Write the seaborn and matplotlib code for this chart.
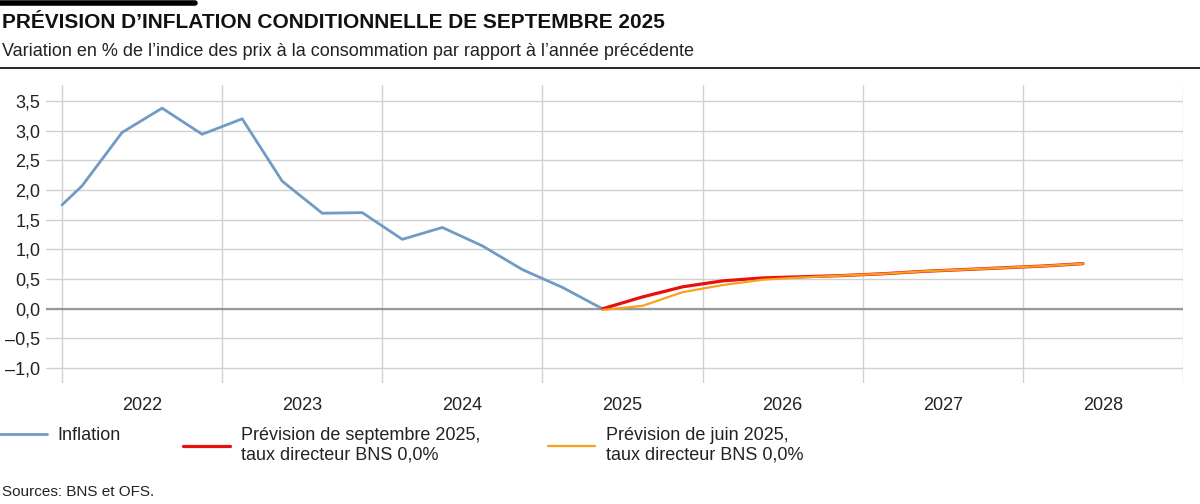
import matplotlib.pyplot as plt
import matplotlib.ticker as mtick
import numpy as np
import pandas as pd
import seaborn as sb

sb.set_theme(style="white")
plt.rcParams['font.family'] = ['Liberation Sans Narrow', 'Liberation Sans', 'DejaVu Sans']

# quarterly data (x in decimal years)
infl_x = [2022.0] + [2022.125 + 0.25 * k for k in range(14)]
infl_y = [1.75, 2.07, 2.97, 3.38, 2.94, 3.20, 2.15, 1.61, 1.62, 1.17, 1.37, 1.06, 0.66, 0.36, 0.0]
fc_x = [2025.375 + 0.25 * k for k in range(13)]
sept_y = [0.0, 0.20, 0.37, 0.47, 0.52, 0.54, 0.56, 0.59, 0.63, 0.66, 0.69, 0.72, 0.76]
juin_y = [-0.02, 0.05, 0.28, 0.40, 0.49, 0.53, 0.56, 0.59, 0.63, 0.66, 0.69, 0.72, 0.76]
years = [2022, 2023, 2024, 2025, 2026, 2027, 2028]
labels = ["Inflation", "Prévision de septembre 2025,\ntaux directeur BNS 0,0%",
          "Prévision de juin 2025,\ntaux directeur BNS 0,0%"]
colors = ["#6f9bc4", "#e8100c", "#f5a21c"]

df = pd.concat([
    pd.DataFrame({"x": infl_x, "y": infl_y, "s": labels[0]}),
    pd.DataFrame({"x": fc_x, "y": juin_y, "s": labels[2]}),
    pd.DataFrame({"x": fc_x, "y": sept_y, "s": labels[1]}),
])

fig = plt.figure(figsize=(12, 5.04), dpi=100)
ax = fig.add_axes([46 / 1200, 1 - 383 / 504, (1183 - 46) / 1200, (383 - 85) / 504])
ax.set_xlim(2021.9, 2029)
ax.set_ylim(-1.25, 3.77)

for lab, w in [(labels[0], 2), (labels[2], 1.6), (labels[1], 2.3)]:
    d = df[df.s == lab]
    sb.lineplot(data=d, x="x", y="y", ax=ax, color=colors[labels.index(lab)],
                linewidth=w, label=lab, legend=False, zorder=3 + labels.index(lab))

for yv in np.arange(-1.0, 3.6, 0.5):
    ax.axhline(yv, color="#d0d0d0", lw=1, zorder=0)
ax.axhline(0, color="#999999", lw=1.6, zorder=1)
for yr in range(2022, 2030):
    ax.axvline(yr, color="#d0d0d0", lw=1, zorder=0)

ax.set_yticks(np.arange(-1.0, 3.6, 0.5))
ax.set_yticklabels([f"{v:.1f}".replace(".", ",").replace("-", "–") for v in np.arange(-1.0, 3.6, 0.5)])
ax.set_xticks([y + 0.5 for y in years])
ax.set_xticklabels([str(y) for y in years])
ax.tick_params(axis="both", length=0, labelsize=13, colors="#222222")
ax.tick_params(axis="y", pad=4)
ax.tick_params(axis="x", pad=10)
ax.set_xlabel("")
ax.set_ylabel("")
for s in ax.spines.values():
    s.set_visible(False)

# header
fig.add_artist(plt.Line2D([0, 195 / 1200], [1 - 3 / 504] * 2, color="black", lw=4))
fig.text(0.002, 1 - 22 / 504, "PRÉVISION D’INFLATION CONDITIONNELLE DE SEPTEMBRE 2025",
         fontsize=15, fontweight="bold", va="center", color="#111111")
fig.text(0.002, 1 - 52 / 504, "Variation en % de l’indice des prix à la consommation par rapport à l’année précédente",
         fontsize=13, va="center", color="#222222")
fig.add_artist(plt.Line2D([0, 1], [1 - 68 / 504] * 2, color="black", lw=1.2))

# legend
lines = {l.get_label(): l for l in ax.get_lines()}
for lab, x0 in zip(labels, [0, 183, 548]):
    lg = fig.legend([lines[lab]], [lab], loc="upper left",
                    bbox_to_anchor=(x0 / 1200 - 0.006, 1 - 420 / 504), frameon=False,
                    fontsize=13, handlelength=2.6, handletextpad=0.6, borderaxespad=0)
    for t in lg.get_texts():
        t.set_color("#222222")

fig.text(0.002, 1 - 492 / 504, "Sources: BNS et OFS.", fontsize=11, va="center", color="#222222")

fig.savefig("out.png", dpi=100)
